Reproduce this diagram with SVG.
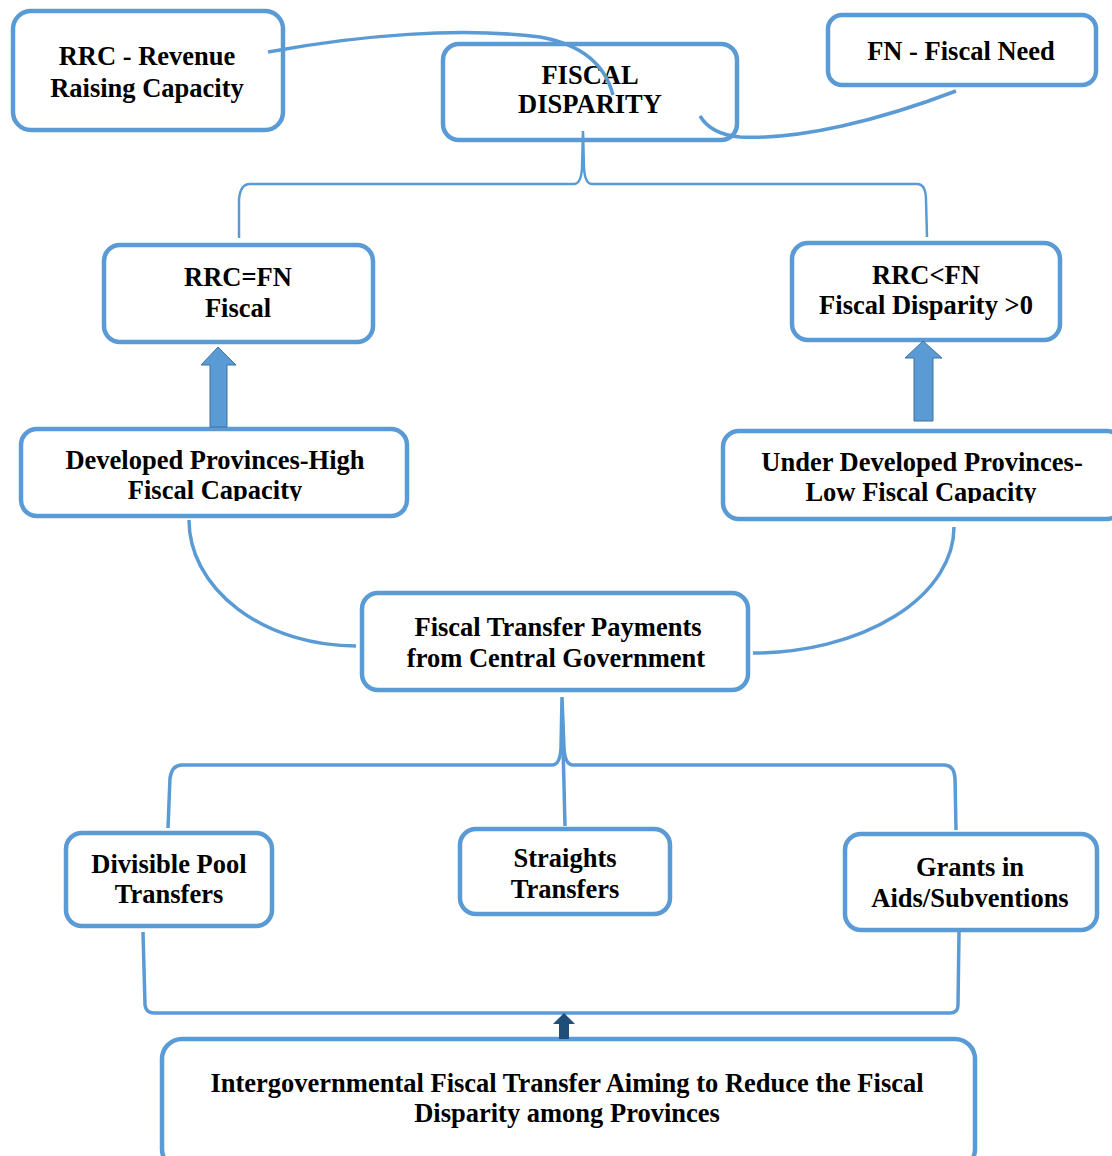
<svg xmlns="http://www.w3.org/2000/svg" width="1112" height="1156" viewBox="0 0 1112 1156">
<style>
.box{fill:#fff;stroke:#5b9bd5;stroke-width:4.5}
.t{font-family:"Liberation Serif","Times New Roman",serif;font-weight:bold;font-size:26.5px;fill:#000;text-anchor:middle}
.c{fill:none;stroke:#5b9bd5;stroke-width:3.5}
.b{fill:none;stroke:#5b9bd5;stroke-width:2.5}
.ba{fill:#5b9bd5;stroke:#41719c;stroke-width:1}
</style>
<defs>
<clipPath id="clipDev"><rect x="0" y="420" width="420" height="81"/></clipPath>
<clipPath id="clipUnd"><rect x="700" y="420" width="412" height="83"/></clipPath>
</defs>
<rect width="1112" height="1156" fill="#fff"/>
<g id="n-rrc"><rect class="box" x="13" y="11" width="270" height="119" rx="18"/>
<text class="t" x="147" y="65">RRC - Revenue</text><text class="t" x="147" y="97">Raising Capacity</text></g>
<g id="n-fd"><rect class="box" x="443" y="44" width="294" height="96" rx="16"/>
<text class="t" x="590" y="84">FISCAL</text><text class="t" x="590" y="113">DISPARITY</text></g>
<g id="n-fn"><rect class="box" x="828" y="15" width="268" height="70" rx="14"/>
<text class="t" x="961" y="60">FN - Fiscal Need</text></g>
<g id="n-eq"><rect class="box" x="104" y="245" width="269" height="97" rx="16"/>
<text class="t" x="238" y="286">RRC=FN</text><text class="t" x="238" y="317">Fiscal</text></g>
<g id="n-lt"><rect class="box" x="792" y="243" width="268" height="97" rx="16"/>
<text class="t" x="926" y="284">RRC&lt;FN</text><text class="t" x="926" y="314">Fiscal Disparity &gt;0</text></g>
<g id="n-dev"><rect class="box" x="21" y="429" width="386" height="87" rx="16"/>
<g clip-path="url(#clipDev)"><text class="t" x="215" y="469">Developed Provinces-High</text><text class="t" x="215" y="499">Fiscal Capacity</text></g></g>
<g id="n-und"><rect class="box" x="723" y="431" width="400" height="88" rx="16"/>
<g clip-path="url(#clipUnd)"><text class="t" x="922" y="471">Under Developed Provinces-</text><text class="t" x="921" y="501">Low Fiscal Capacity</text></g></g>
<g id="n-ftp"><rect class="box" x="362" y="593" width="386" height="97" rx="16"/>
<text class="t" x="558" y="636">Fiscal Transfer Payments</text><text class="t" x="556" y="667">from Central Government</text></g>
<g id="n-div"><rect class="box" x="66" y="833" width="206" height="93" rx="16"/>
<text class="t" x="169" y="873">Divisible Pool</text><text class="t" x="169" y="903">Transfers</text></g>
<g id="n-str"><rect class="box" x="460" y="829" width="210" height="85" rx="16"/>
<text class="t" x="565" y="867">Straights</text><text class="t" x="565" y="898">Transfers</text></g>
<g id="n-gra"><rect class="box" x="845" y="834" width="252" height="96" rx="16"/>
<text class="t" x="970" y="876">Grants in</text><text class="t" x="970" y="907">Aids/Subventions</text></g>
<g id="n-igt"><rect class="box" x="162" y="1039" width="813" height="130" rx="20"/>
<text class="t" x="567" y="1092">Intergovernmental Fiscal Transfer Aiming to Reduce the Fiscal</text><text class="t" x="567" y="1122">Disparity among Provinces</text></g>
<g id="connectors">
<path class="c" d="M268,52 C360,35 460,27 540,37 C585,45 606,68 613,95"/>
<path class="c" d="M956,91 C880,120 800,140 740,137 C718,135 706,126 700,116"/>
<path class="b" d="M239,238 L239,200 Q240,184 250,184 L574,184 Q581,184 582,168 L583,131 L584,168 Q585,184 592,184 L917,184 Q926,184 926,200 L927,237"/>
<polygon class="ba" points="218,347 236,365 227,365 227,427 210,427 210,365 201,365"/>
<polygon class="ba" points="923,341 942,358 933,358 933,421 914,421 914,358 905,358"/>
<path class="c" d="M189,520 A167,126 0 0 0 356,646"/>
<path class="c" d="M954,527 A201,126 0 0 1 753,653"/>
<path class="c" d="M168,828 L170,778 Q172,765 182,765 L552,765 Q560,765 561,748 L562,697 L564,748 Q565,765 573,765 L944,765 Q954,765 955,778 L956,830"/>
<path class="c" d="M563,745 L565,826"/>
<path class="c" d="M143,932 L145,1005 Q146,1013 154,1013 L950,1013 Q958,1013 958,1005 L959,932"/>
<polygon fill="#1f4e79" points="564,1013 575,1024 569,1024 569,1039 559,1039 559,1024 553,1024"/>
</g>
</svg>
